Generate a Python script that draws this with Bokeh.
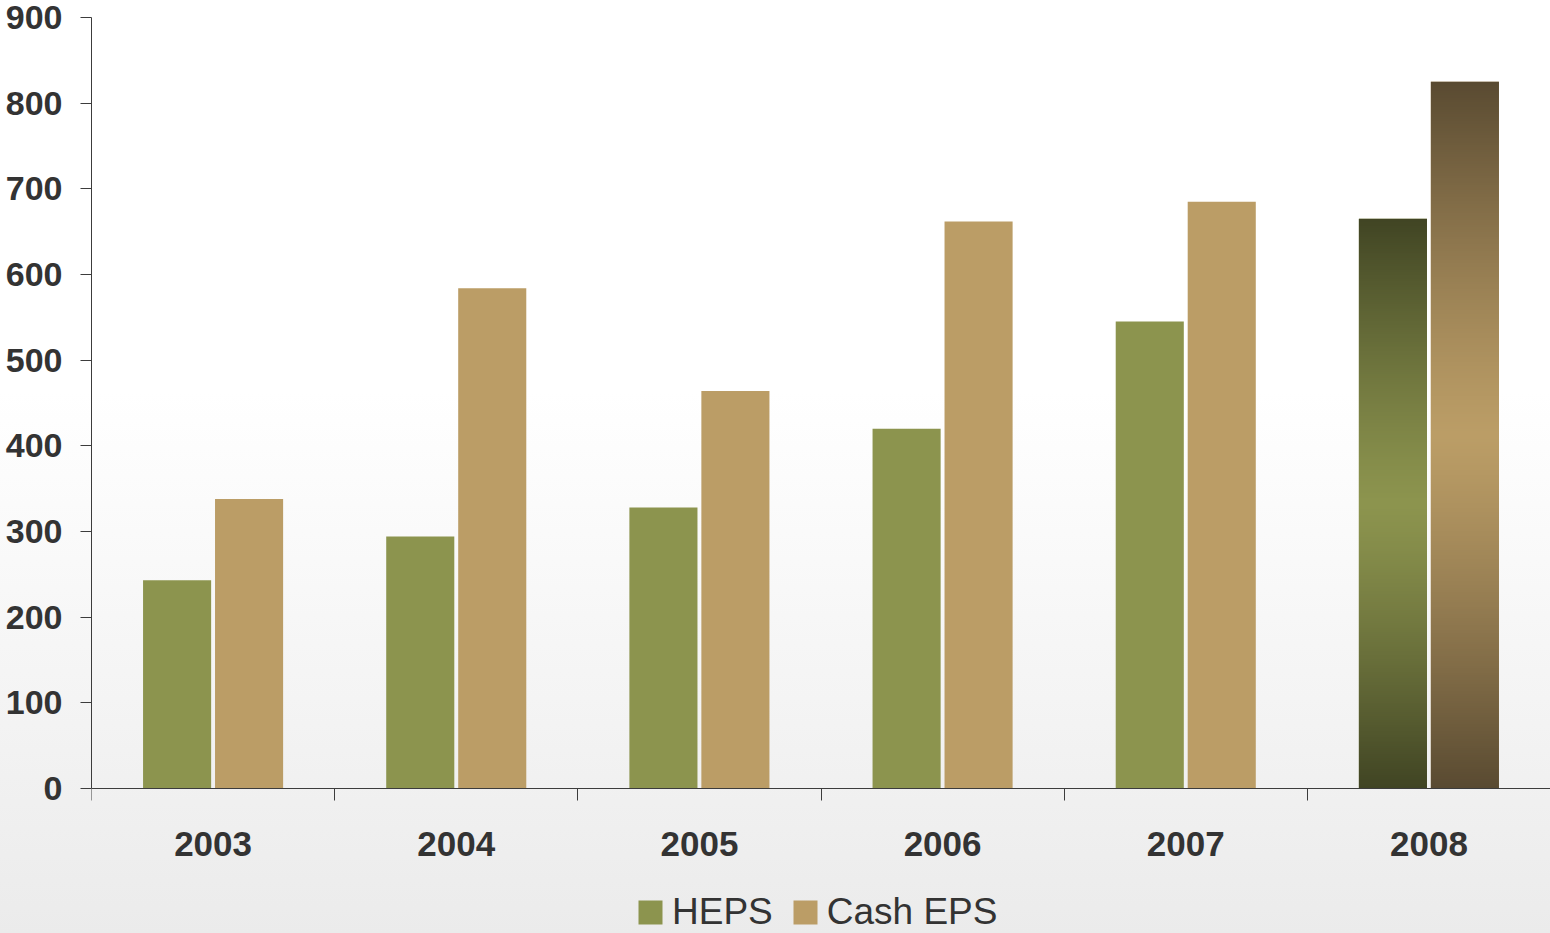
import numpy as np
from bokeh.plotting import figure
from bokeh.models import FixedTicker, Legend, LegendItem, Range1d
from bokeh.embed import file_html
from bokeh.resources import INLINE

# Earnings per share (cents) by financial year
years = ["2003", "2004", "2005", "2006", "2007", "2008"]
heps = [243, 294, 328, 420, 545, 665]
cash_eps = [338, 584, 464, 662, 685, 825]
y_ticks = [0, 100, 200, 300, 400, 500, 600, 700, 800, 900]

HEPS_COLOR = "#8c944e"
CASH_COLOR = "#bb9d66"
HEPS_DARK = "#404423"
CASH_DARK = "#594a31"
TEXT_COLOR = "#333333"
AXIS_COLOR = "#3c3c3c"
FONT = "Liberation Sans"

positions = np.arange(1, len(years) + 1)
offset = 0.148
bar_w = 0.28

# the frame runs to the bottom edge so the legend can sit under the year labels;
# the value axis is bounded to 0..900 and the category axis is pinned at zero
y_top = 900
y_bottom = -169.3

p = figure(
    width=1550, height=933,
    x_range=Range1d(0.5, len(years) + 0.5), y_range=Range1d(y_bottom, y_top),
    output_backend="svg", toolbar_location=None,
    min_border_left=91, min_border_right=0, min_border_top=17, min_border_bottom=0,
)
p.styles = {"background": "linear-gradient(to bottom, #ffffff 0%, #ffffff 42%, #f5f5f5 72%, #ebebeb 100%)"}
p.background_fill_color = None
p.border_fill_color = None
p.outline_line_color = None
p.xgrid.visible = False
p.ygrid.visible = False

r_heps = p.vbar(x=positions - offset, top=heps, width=bar_w, color=HEPS_COLOR, line_color=None)
r_cash = p.vbar(x=positions + offset, top=cash_eps, width=bar_w, color=CASH_COLOR, line_color=None)


def hex_rgb(h):
    h = h.lstrip("#")
    return np.array([int(h[i:i + 2], 16) for i in (0, 2, 4)], dtype=float)


def shaded_column(light, dark, n=300):
    f = (np.arange(n) + 0.5) / n
    t = np.abs(2 * f - 1) ** 1.25
    rgb = hex_rgb(light)[None, :] * (1 - t[:, None]) + hex_rgb(dark)[None, :] * t[:, None]
    img = np.empty((n, 1), dtype=np.uint32)
    view = img.view(dtype=np.uint8).reshape((n, 1, 4))
    view[:, 0, :3] = np.round(rgb).astype(np.uint8)
    view[:, 0, 3] = 255
    return img


# latest year highlighted with a shaded fill
last = len(years) - 1
p.image_rgba(image=[shaded_column(HEPS_COLOR, HEPS_DARK)],
             x=positions[last] - offset - bar_w / 2, y=0, dw=bar_w, dh=heps[last])
p.image_rgba(image=[shaded_column(CASH_COLOR, CASH_DARK)],
             x=positions[last] + offset - bar_w / 2, y=0, dw=bar_w, dh=cash_eps[last])

# x axis: year labels centred, separators between groups
xa = p.xaxis[0]
xa.fixed_location = 0
xa.ticker = FixedTicker(ticks=list(positions), minor_ticks=[x + 0.5 for x in range(len(years) + 1)])
xa.major_label_overrides = {int(x): y for x, y in zip(positions, years)}
xa.major_tick_out = 0
xa.major_tick_in = 0
xa.minor_tick_out = 12
xa.minor_tick_in = 0
xa.minor_tick_line_color = AXIS_COLOR
xa.axis_line_color = AXIS_COLOR
xa.major_label_standoff = 32
xa.major_label_text_font = FONT
xa.major_label_text_font_style = "bold"
xa.major_label_text_font_size = "35px"
xa.major_label_text_color = TEXT_COLOR

ya = p.yaxis[0]
ya.bounds = (0, y_top)
ya.ticker = FixedTicker(ticks=y_ticks, minor_ticks=[])
ya.major_tick_out = 11
ya.major_tick_in = 0
ya.major_tick_line_color = AXIS_COLOR
ya.axis_line_color = AXIS_COLOR
ya.major_label_standoff = 18
ya.major_label_text_font = FONT
ya.major_label_text_font_style = "bold"
ya.major_label_text_font_size = "34px"
ya.major_label_text_color = TEXT_COLOR

legend = Legend(
    items=[LegendItem(label="HEPS", renderers=[r_heps]),
           LegendItem(label="Cash EPS", renderers=[r_cash])],
    orientation="horizontal", location=(544, 0),
    glyph_width=30, glyph_height=30, label_standoff=7, spacing=17,
    padding=0, margin=0, border_line_color=None, background_fill_alpha=0,
    label_text_font=FONT, label_text_font_size="37px", label_text_color=TEXT_COLOR,
)
p.add_layout(legend)

open("out.html", "w").write(file_html(p, INLINE))
